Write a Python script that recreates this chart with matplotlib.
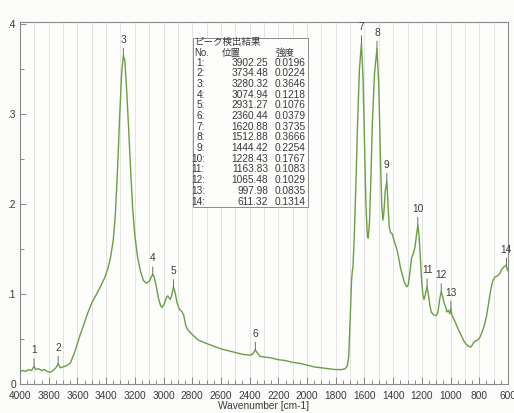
import matplotlib
matplotlib.use("Agg")
import matplotlib.pyplot as plt
from matplotlib.ticker import MultipleLocator, FixedLocator

# ---- data ----
wavenumber = [4000, 3980, 3960, 3940, 3920, 3902, 3890, 3870, 3850, 3830, 3810, 3790, 3770, 3750,
              3734, 3720, 3700, 3680, 3660, 3650, 3620, 3600, 3580, 3560, 3530, 3500, 3470, 3440,
              3410, 3390, 3370, 3350, 3335, 3320, 3305, 3292, 3280, 3270, 3258, 3245, 3230, 3215,
              3200, 3180, 3160, 3140, 3120, 3100, 3085, 3075, 3065, 3050, 3035, 3020, 3010, 2995,
              2980, 2970, 2955, 2945, 2931, 2920, 2905, 2890, 2875, 2860, 2845, 2830, 2800, 2760,
              2700, 2650, 2600, 2550, 2500, 2450, 2400, 2380, 2360, 2345, 2330, 2300, 2250, 2200,
              2150, 2100, 2050, 2000, 1950, 1900, 1850, 1800, 1760, 1735, 1720, 1710, 1700, 1690,
              1685, 1680, 1672, 1660, 1648, 1635, 1621, 1610, 1600, 1590, 1580, 1574, 1565, 1555,
              1545, 1530, 1513, 1500, 1490, 1480, 1472, 1465, 1455, 1444, 1436, 1428, 1418, 1407,
              1395, 1385, 1375, 1364, 1350, 1338, 1320, 1305, 1295, 1285, 1272, 1260, 1248, 1238,
              1228, 1220, 1212, 1202, 1192, 1185, 1175, 1164, 1155, 1145, 1135, 1120, 1100, 1088,
              1075, 1065, 1055, 1045, 1035, 1025, 1015, 1005, 998, 990, 980, 965, 950, 935, 920,
              905, 890, 875, 860, 850, 840, 825, 810, 795, 780, 765, 750, 735, 720, 705, 690, 675,
              660, 645, 630, 620, 611, 605, 600]
absorbance = [0.014, 0.015, 0.014, 0.016, 0.015, 0.0196, 0.016, 0.017, 0.015, 0.016, 0.014, 0.013,
              0.015, 0.018, 0.0224, 0.018, 0.019, 0.020, 0.022, 0.023, 0.035, 0.045, 0.055, 0.064,
              0.078, 0.090, 0.099, 0.108, 0.118, 0.127, 0.140, 0.160, 0.190, 0.240, 0.300, 0.345,
              0.3646, 0.360, 0.330, 0.290, 0.240, 0.195, 0.165, 0.140, 0.125, 0.115, 0.112, 0.114,
              0.119, 0.1218, 0.119, 0.108, 0.095, 0.087, 0.085, 0.089, 0.096, 0.098, 0.094, 0.097,
              0.1076, 0.102, 0.090, 0.083, 0.081, 0.077, 0.065, 0.060, 0.055, 0.049, 0.045, 0.042,
              0.039, 0.037, 0.035, 0.033, 0.032, 0.033, 0.0379, 0.034, 0.031, 0.030, 0.029, 0.027,
              0.026, 0.024, 0.023, 0.021, 0.019, 0.018, 0.017, 0.016, 0.016, 0.017, 0.020, 0.030,
              0.070, 0.115, 0.125, 0.130, 0.160, 0.220, 0.290, 0.350, 0.3785, 0.340, 0.270, 0.200,
              0.165, 0.162, 0.180, 0.230, 0.290, 0.345, 0.3725, 0.330, 0.260, 0.200, 0.182, 0.190,
              0.215, 0.2254, 0.200, 0.175, 0.168, 0.167, 0.160, 0.155, 0.150, 0.142, 0.130, 0.122,
              0.112, 0.108, 0.110, 0.122, 0.140, 0.145, 0.152, 0.165, 0.1767, 0.165, 0.145, 0.115,
              0.098, 0.094, 0.100, 0.1083, 0.100, 0.088, 0.080, 0.077, 0.076, 0.080, 0.095, 0.1029,
              0.097, 0.090, 0.086, 0.080, 0.082, 0.078, 0.0835, 0.076, 0.073, 0.068, 0.062, 0.057,
              0.052, 0.047, 0.044, 0.042, 0.041, 0.043, 0.046, 0.048, 0.049, 0.052, 0.058, 0.065,
              0.075, 0.090, 0.105, 0.115, 0.119, 0.120, 0.122, 0.127, 0.130, 0.131, 0.1314, 0.127,
              0.126]

peak_no = list(range(1, 15))
peak_pos = [3902.25, 3734.48, 3280.32, 3074.94, 2931.27, 2360.44, 1620.88, 1512.88, 1444.42,
            1228.43, 1163.83, 1065.48, 997.98, 611.32]
peak_int = [0.0196, 0.0224, 0.3646, 0.1218, 0.1076, 0.0379, 0.3735, 0.3666, 0.2254,
            0.1767, 0.1083, 0.1029, 0.0835, 0.1314]
peak_plot_y = [0.0196, 0.0224, 0.3646, 0.1218, 0.1076, 0.0379, 0.3785, 0.3725, 0.2254,
               0.1767, 0.1083, 0.1029, 0.0835, 0.1314]

xticks = list(range(4000, 599, -200))
yticks = [0, 0.1, 0.2, 0.3, 0.4]
ytick_labels = ["0", ".1", ".2", ".3", ".4"]

# ---- figure ----
W, H = 514, 413
fig = plt.figure(figsize=(W / 100, H / 100), dpi=100)
fig.patch.set_facecolor("#fbfbfa")
ax_l, ax_r, ax_t, ax_b = 20, 508, 22, 384
ax = fig.add_axes([ax_l / W, 1 - ax_b / H, (ax_r - ax_l) / W, (ax_b - ax_t) / H])
ax.set_facecolor("#fdfdfc")

tick_font = ["Liberation Sans", "DejaVu Sans"]
txt_col = "#3a3a3a"

ax.plot(wavenumber, absorbance, color="#6b9e45", lw=1.0, zorder=3)
ax.set_xlim(4000, 600)
ax.set_ylim(0, 0.4022)

ax.xaxis.set_major_locator(FixedLocator(xticks))
ax.xaxis.set_minor_locator(MultipleLocator(50))
ax.set_xticklabels([str(t) for t in xticks], fontsize=7.3, color=txt_col, family=tick_font)
ax.set_yticks(yticks)
ax.set_yticklabels(ytick_labels, fontsize=7.3, color=txt_col, family=tick_font)
ax.yaxis.set_minor_locator(MultipleLocator(0.05))
ax.tick_params(axis="x", which="major", direction="in", length=5, width=0.6, color="#777777", pad=5)
ax.tick_params(axis="x", which="minor", direction="in", length=3, width=0.6, color="#777777")
ax.tick_params(axis="y", which="major", direction="in", length=4, width=0.6, color="#777777", pad=3)
ax.tick_params(axis="y", which="minor", direction="in", length=3, width=0.6, color="#777777")

# vertical grid lines every 100 cm-1
for g in range(3900, 600, -100):
    ax.axvline(g, color="#e0e0e0", lw=0.6, zorder=1)
for s in ax.spines.values():
    s.set_color("#8a8a8a")
    s.set_linewidth(0.8)

ax.set_xlabel("Wavenumber [cm-1]", fontsize=7.3, color=txt_col, family=tick_font, labelpad=0)

# peak markers
for n, x, y in zip(peak_no, peak_pos, peak_plot_y):
    ax.annotate(str(n), xy=(x, y), xytext=(0, 8), textcoords="offset points",
                ha="center", va="bottom", fontsize=7.3, color=txt_col, family=tick_font,
                arrowprops=dict(arrowstyle="-", color="#555555", lw=0.6,
                                shrinkA=0.5, shrinkB=0), zorder=4)

# peak table
def fx(px):
    return px / W

def fy(py):
    return 1 - py / H

jp = ["Noto Sans CJK JP", "DejaVu Sans"]
box = plt.Rectangle((fx(193), fy(207)), fx(308) - fx(193), (207 - 38) / H,
                    transform=fig.transFigure, fill=True, facecolor="#fdfdfc",
                    edgecolor="#8a8a8a", lw=0.7, zorder=5)
fig.patches.append(box)
fig.text(fx(194), fy(42), "ピーク検出結果", fontsize=6.8, family=jp, color=txt_col,
         va="center", ha="left", zorder=6)
fig.text(fx(194), fy(53), "No.", fontsize=7, family=tick_font, color=txt_col, va="center", ha="left", zorder=6)
fig.text(fx(231), fy(53), "位置", fontsize=6.8, family=jp, color=txt_col, va="center", ha="center", zorder=6)
fig.text(fx(285), fy(53), "強度", fontsize=6.8, family=jp, color=txt_col, va="center", ha="center", zorder=6)
row0, dy = 62.5, 10.7
for i, (n, p, v) in enumerate(zip(peak_no, peak_pos, peak_int)):
    yy = fy(row0 + i * dy)
    fig.text(fx(205), yy, f"{n}:", fontsize=7.3, family=tick_font, color=txt_col,
             va="center", ha="right", zorder=6)
    fig.text(fx(268), yy, f"{p:.2f}", fontsize=7.3, family=tick_font, color=txt_col,
             va="center", ha="right", zorder=6)
    fig.text(fx(305.5), yy, f"{v:.4f}", fontsize=7.3, family=tick_font, color=txt_col,
             va="center", ha="right", zorder=6)

fig.savefig("out.png", dpi=100, facecolor=fig.get_facecolor())
